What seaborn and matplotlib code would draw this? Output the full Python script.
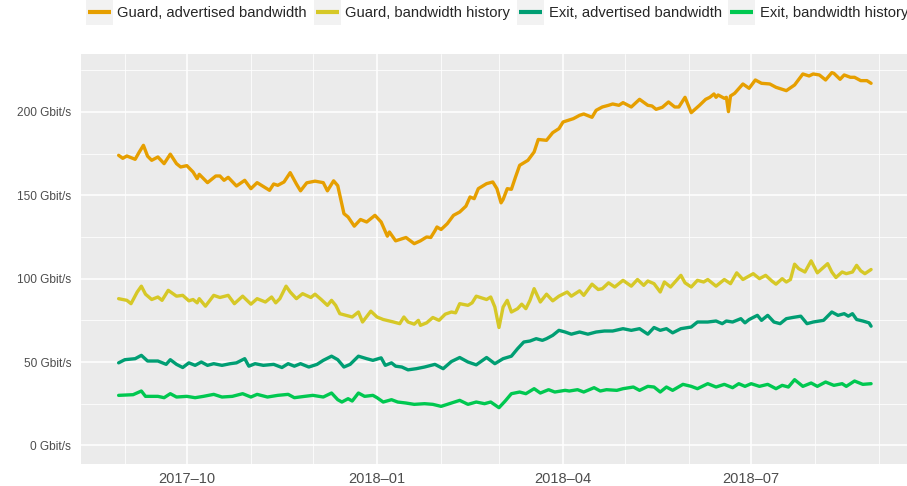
import matplotlib
matplotlib.use("Agg")
import matplotlib.pyplot as plt
import matplotlib.dates as mdates
from matplotlib.legend_handler import HandlerLine2D
from matplotlib.lines import Line2D
from matplotlib.patches import Rectangle
from matplotlib.ticker import MultipleLocator, FuncFormatter
import pandas as pd
import seaborn as sns

START = pd.Timestamp("2017-08-29")

SERIES = ["Guard, advertised bandwidth", "Guard, bandwidth history",
          "Exit, advertised bandwidth", "Exit, bandwidth history"]
COLORS = ["#E69F00", "#D6C827", "#009E73", "#00C850"]

# day offsets from START and values in Gbit/s
ga_days = [0, 2, 4, 8, 10, 12, 14, 16, 19, 22, 25, 28, 30, 33, 36, 38, 39, 43, 47, 49,
           51, 53, 57, 61, 64, 67, 73, 75, 77, 80, 83, 86, 88, 91, 95, 99, 101, 104, 106, 109,
           111, 114, 117, 120, 124, 127, 130, 131, 134, 136, 139, 143, 146, 149, 151, 153, 154, 156, 159, 162,
           165, 168, 170, 172, 174, 178, 181, 183, 185, 186, 188, 190, 192, 194, 198, 201, 203, 207, 210, 213,
           215, 220, 223, 225, 229, 231, 234, 237, 239, 242, 244, 248, 252, 256, 258, 260, 263, 266, 269, 271,
           274, 277, 281, 284, 286, 288, 289, 290, 293, 294, 295, 296, 298, 302, 305, 308, 311, 315, 318, 323,
           327, 331, 334, 336, 339, 342, 345, 346, 349, 351, 354, 356, 359, 362, 364]
ga_vals = [174, 172.2, 173.6, 171.6, 176, 180, 173.5, 171, 173, 169, 174.7, 169, 167, 167.8, 164, 160, 162.6, 157.6, 161.6, 161.6,
           159, 160.8, 155.6, 159, 154, 157.6, 153, 156.8, 156, 158, 163.6, 156.8, 152.7, 157.5, 158.5, 157.6, 152.7, 158.7, 155.8, 139,
           137, 131.5, 135.5, 134, 138, 134, 125.5, 128, 122.7, 123.5, 124.7, 121, 122.7, 125, 124.7, 128.7, 131, 129.5, 133, 138,
           140, 143.5, 149, 148, 154, 157, 158, 154, 145.5, 147.5, 154, 153.6, 161, 168, 171, 176, 183.5, 183, 187.6, 190,
           194, 196, 198, 198.8, 196.8, 201, 203, 204, 204.8, 204, 205.6, 203, 207.6, 204, 203.6, 201.6, 202.8, 206, 203, 203,
           208.8, 199.6, 204, 207.6, 208.8, 210.8, 208.8, 210.2, 208.2, 208.8, 200.2, 209.6, 211.2, 216.8, 214.2, 219.2, 217.2, 216.8, 214.8, 212.8,
           216.2, 222.8, 221.6, 222.8, 222.2, 219.2, 223.6, 223.2, 219.6, 222.2, 220.8, 220.8, 218.8, 218.8, 217.2]

gh_days = [0, 4, 6, 9, 11, 13, 16, 19, 21, 24, 28, 31, 34, 36, 38, 39, 42, 46, 49, 53,
           56, 60, 64, 67, 71, 74, 76, 78, 81, 83, 86, 89, 93, 95, 98, 101, 103, 105, 107, 110,
           113, 116, 118, 122, 125, 128, 133, 136, 138, 140, 143, 145, 146, 149, 152, 155, 158, 161, 163, 165,
           169, 171, 173, 175, 178, 180, 182, 184, 186, 188, 190, 193, 195, 197, 199, 201, 204, 207, 210, 213,
           217, 219, 223, 225, 229, 232, 234, 237, 240, 244, 248, 251, 254, 256, 259, 262, 264, 267, 272, 274,
           277, 280, 283, 285, 289, 293, 296, 299, 302, 307, 310, 313, 316, 318, 321, 323, 325, 327, 329, 332,
           335, 338, 343, 345, 347, 350, 352, 355, 357, 359, 361, 364]
gh_vals = [88, 87, 85, 92, 95.5, 90.7, 87.5, 89, 87, 93, 89.5, 90, 86.7, 87.5, 85.5, 88, 83.5, 90, 88.7, 90,
           85, 89.5, 84.7, 88, 86, 89, 85.5, 88, 95.5, 92, 88, 91, 88.7, 90.7, 87.5, 84, 87, 84, 79, 78,
           77, 80, 74, 80.5, 77, 75.5, 74, 73, 77, 74, 72.7, 75, 72, 73.5, 76.7, 75, 78.7, 80, 79.5, 85,
           84, 85.5, 89.5, 88.7, 87.5, 89, 83, 70.7, 83, 87, 80, 82, 84.7, 82, 87, 94, 86, 90.7, 86.7, 89.5,
           92, 89.5, 92.7, 90, 96.7, 93.5, 94, 97.5, 95, 99, 95.5, 99.5, 96, 98.6, 97, 92, 98, 95, 102, 97.5,
           95, 99, 98, 99.5, 95.5, 99.5, 97, 103.5, 99.5, 103, 100, 102, 98.6, 96.7, 100, 98, 99.5, 108.7, 106, 104,
           110.7, 103.5, 109, 104, 100.7, 104, 103, 104, 108, 104.7, 103, 105.5]

ea_days = [0, 3, 8, 11, 14, 19, 23, 25, 28, 31, 34, 37, 40, 43, 46, 50, 54, 57, 61, 63,
           66, 70, 75, 79, 82, 85, 88, 92, 96, 99, 103, 106, 109, 112, 116, 120, 123, 127, 129, 132,
           134, 137, 140, 144, 148, 153, 157, 161, 165, 169, 173, 178, 182, 186, 190, 193, 196, 199, 202, 205,
           207, 210, 213, 216, 219, 223, 227, 231, 235, 239, 244, 248, 252, 256, 259, 262, 265, 268, 272, 277,
           280, 285, 289, 292, 294, 297, 301, 303, 305, 309, 311, 314, 317, 320, 323, 326, 330, 333, 336, 341,
           345, 348, 351, 353, 355, 357, 360, 363, 364]
ea_vals = [49.5, 51.4, 52, 54, 50.6, 50.6, 48.6, 51.4, 48.6, 46.7, 49.5, 48, 50, 48, 49, 48, 49, 49.5, 52, 47.5,
           49, 48, 48.6, 46.7, 49, 47.5, 49, 47, 48.6, 51, 53.5, 51.4, 47, 48.6, 53.5, 52, 51, 52.5, 48, 49.5,
           47.5, 47, 45.3, 46, 47, 48.6, 46, 50.3, 52.7, 50, 48.3, 52.7, 49, 52, 53.5, 58, 62, 62.6, 64, 63,
           64, 66, 69, 68, 66.7, 68, 66.7, 68, 68.6, 68.6, 70, 69, 70, 66.7, 70.7, 69, 70, 67.5, 70, 71,
           74, 74, 74.6, 73, 74.6, 74, 76, 73.5, 75.5, 78, 75, 78, 74, 73, 76, 76.7, 77.5, 73, 74, 75,
           80, 78, 79, 77.5, 79, 75.5, 74.6, 73.5, 71.5]

eh_days = [0, 7, 11, 13, 19, 22, 25, 28, 33, 37, 41, 46, 50, 55, 60, 64, 67, 72, 77, 82,
           85, 90, 94, 99, 103, 106, 108, 111, 113, 116, 119, 123, 125, 128, 132, 135, 139, 143, 148, 152,
           156, 161, 165, 169, 173, 177, 180, 184, 187, 190, 194, 197, 201, 204, 208, 211, 216, 218, 222, 225,
           230, 233, 236, 241, 244, 249, 252, 256, 259, 262, 265, 268, 273, 277, 280, 285, 289, 293, 297, 300,
           303, 306, 310, 314, 318, 321, 324, 327, 331, 335, 338, 342, 346, 350, 352, 356, 360, 364]
eh_vals = [30, 30.4, 32.6, 29.4, 29.4, 28.6, 31, 29, 29.4, 28.6, 29.4, 30.6, 29, 29.4, 31, 29, 30.6, 29, 30, 30.6,
           28.6, 29.4, 30, 29, 31.4, 27.4, 26, 28, 26.6, 31.4, 29.4, 30, 28.6, 26, 27.4, 26, 25.4, 24.6, 25, 24.6,
           23.4, 25.4, 27, 24.6, 26, 25, 26, 22.6, 26.6, 31, 32, 31, 34, 31.4, 33.4, 32, 33, 32.6, 33.4, 32,
           34.6, 32.6, 33.4, 33, 34, 35, 33, 35.4, 35, 32, 35, 33, 36.6, 35.4, 34, 37, 35, 36.6, 34.6, 37,
           35.4, 37, 35.4, 36.6, 34, 36, 35, 39.4, 35.4, 37.4, 35.4, 38, 36, 37, 35.4, 38.6, 36.6, 37]

frames = []
for name, days, vals in zip(SERIES, [ga_days, gh_days, ea_days, eh_days],
                            [ga_vals, gh_vals, ea_vals, eh_vals]):
    frames.append(pd.DataFrame({
        "date": START + pd.to_timedelta(days, unit="D"),
        "value": vals,
        "series": name,
    }))
df = pd.concat(frames, ignore_index=True)

sns.set_theme(style="darkgrid", rc={"axes.facecolor": "#EBEBEB", "grid.color": "white"})
plt.rcParams["font.family"] = ["Liberation Sans", "DejaVu Sans"]

fig = plt.figure(figsize=(9.07, 4.86), dpi=100)
ax = fig.add_axes([81 / 907, 22 / 486, 827.7 / 907, 410 / 486])

sns.lineplot(data=df, x="date", y="value", hue="series", hue_order=SERIES,
             palette=COLORS, linewidth=2.4, legend=False, ax=ax,
             solid_joinstyle="round", solid_capstyle="round")

dmin, dmax = df["date"].min(), df["date"].max()
pad = (dmax - dmin) * 0.05
ax.set_xlim(dmin - pad, dmax + pad)
hi = df["value"].max()
ax.set_ylim(-0.05 * hi, hi * 1.05)

ax.xaxis.set_major_locator(mdates.MonthLocator(bymonth=[1, 4, 7, 10]))
ax.xaxis.set_minor_locator(mdates.MonthLocator())
ax.xaxis.set_major_formatter(mdates.DateFormatter("%Y\u2013%m"))
ax.yaxis.set_major_locator(MultipleLocator(50))
ax.yaxis.set_minor_locator(MultipleLocator(25))
ax.yaxis.set_major_formatter(FuncFormatter(lambda v, p: f"{v:.0f} Gbit/s"))

ax.grid(which="major", color="white", linewidth=1.1)
ax.grid(which="minor", color="white", linewidth=0.55)
ax.tick_params(which="major", length=4, width=0.8, color="#333333",
               labelcolor="#4D4D4D", pad=2)
ax.tick_params(axis="x", which="major", labelsize=10.5)
ax.tick_params(axis="y", which="major", labelsize=8.6, pad=3)
ax.tick_params(which="minor", length=0)
for s in ax.spines.values():
    s.set_visible(False)
ax.set_xlabel("")
ax.set_ylabel("")


class KeyHandler(HandlerLine2D):
    def create_artists(self, legend, orig_handle, xdescent, ydescent,
                       width, height, fontsize, trans):
        mid = -ydescent + height / 2
        bg = Rectangle((-xdescent, mid - 9), width, 18,
                       facecolor="#F2F2F2", edgecolor="none", transform=trans)
        ln = Line2D([-xdescent + 0.08 * width, -xdescent + 0.92 * width], [mid, mid],
                    color=orig_handle.get_color(), linewidth=3,
                    solid_capstyle="butt", transform=trans)
        return [bg, ln]


handles = [Line2D([], [], color=c, linewidth=3) for c in COLORS]
fig.legend(handles, SERIES, loc="center", bbox_to_anchor=(0.548, 0.974), ncol=4,
           frameon=False, fontsize=10.6, handlelength=1.85, handleheight=1.2,
           handletextpad=0.3, columnspacing=0.45, borderaxespad=0,
           handler_map={Line2D: KeyHandler()})

fig.savefig("out.png", dpi=100)
